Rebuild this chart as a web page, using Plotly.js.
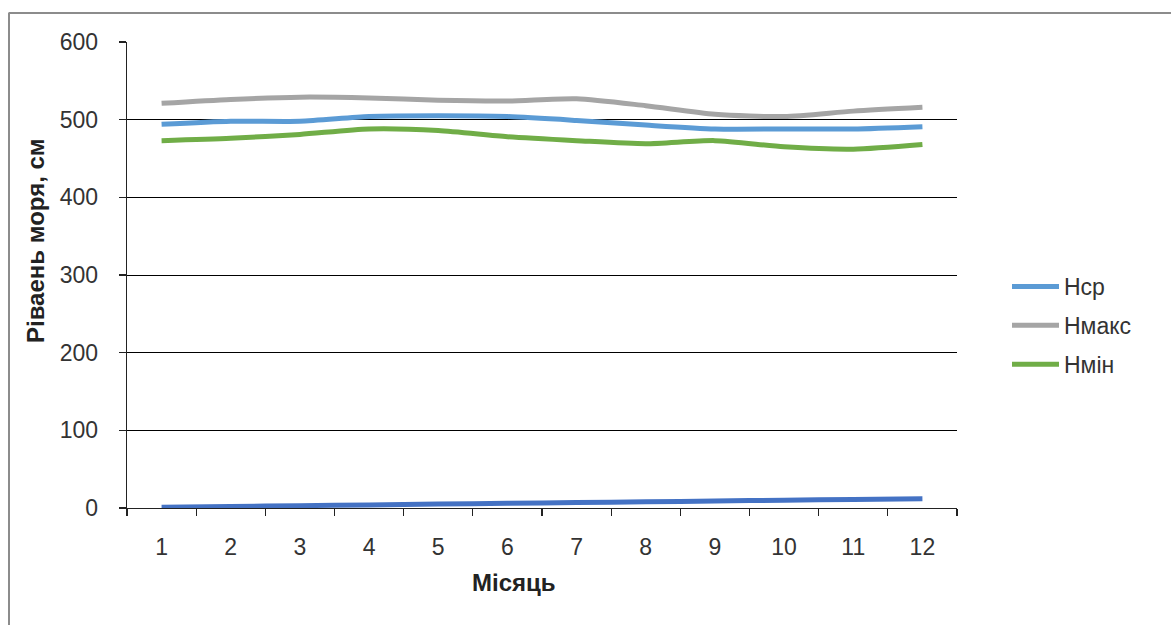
<!DOCTYPE html>
<html>
<head>
<meta charset="utf-8">
<script src="https://cdn.plot.ly/plotly-3.0.1.min.js"></script>
<style>html,body{margin:0;padding:0;background:#fff;}#chart{width:1174px;height:625px;}</style>
</head>
<body>
<div id="chart"></div>
<script>
const months = ['1','2','3','4','5','6','7','8','9','10','11','12'];
const monthValues = [1,2,3,4,5,6,7,8,9,10,11,12];
const hAvg = [494, 498, 498, 504, 505, 504, 499, 493, 488, 488, 488, 491];
const hMax = [521, 526, 529, 528, 525, 524, 527, 518, 507, 504, 511, 516];
const hMin = [473, 476, 481, 488, 486, 478, 473, 469, 473, 465, 462, 468];
const seriesNames = ['Нср', 'Нмакс', 'Нмін'];
const xTitle = 'Місяць';
const yTitle = 'Ріваень моря, см';

const L = 127, R = 957, T = 42, B = 508, W = 1174, H = 625;
const px = v => (v - L) / (R - L);
const py = v => (B - v) / (B - T);

function line(name, y, color, group, show) {
  return {x: months, y: y, name: name, type: 'scatter', mode: 'lines',
    line: {color: color, width: 5, shape: 'spline', smoothing: 0.7},
    legendgroup: group, showlegend: show, hoverinfo: 'skip'};
}
const data = [
  line(seriesNames[0], hAvg, '#5B9BD5', 'a', true),
  line(seriesNames[1], hMax, '#A5A5A5', 'b', true),
  line(seriesNames[2], hMin, '#70AD47', 'c', true),
  line('Місяць', monthValues, '#4472C4', 'd', false)
];
const fam = 'Liberation Sans, Arial, sans-serif';
const layout = {
  width: W, height: H,
  margin: {l: L, r: W - R, t: T, b: H - B, pad: 0},
  paper_bgcolor: '#fff', plot_bgcolor: '#fff',
  font: {family: fam, color: '#333', size: 23},
  showlegend: true,
  legend: {x: px(1007), y: py(265), xanchor: 'left', yanchor: 'top',
    font: {family: fam, size: 23, color: '#333'}, itemwidth: 47,
    tracegroupgap: 6, bgcolor: 'rgba(0,0,0,0)'},
  xaxis: {type: 'category', range: [-0.5, 11.5], showgrid: false, zeroline: false,
    showline: true, linecolor: '#222', linewidth: 1.3, ticks: 'outside', tickson: 'boundaries',
    ticklen: 7, tickcolor: '#222', tickwidth: 1.3, ticklabelstandoff: 18,
    tickfont: {family: 'Liberation Sans Narrow, Liberation Sans, Arial, sans-serif', size: 23, color: '#333'}, fixedrange: true},
  yaxis: {range: [0, 600], dtick: 100, tick0: 0, showgrid: true, gridcolor: '#000', gridwidth: 1,
    zeroline: false, showline: true, linecolor: '#222', linewidth: 1.3, ticks: 'outside',
    ticklen: 7, tickcolor: '#222', tickwidth: 1.3, ticklabelstandoff: 16,
    tickfont: {family: fam, size: 23, color: '#333'}, fixedrange: true},
  annotations: [
    {text: '<b>' + xTitle + '</b>', xref: 'paper', yref: 'paper', x: px(514), y: py(582),
      xanchor: 'center', yanchor: 'middle', showarrow: false,
      font: {family: 'Liberation Sans Narrow, Liberation Sans, Arial, sans-serif', size: 24, color: '#222'}},
    {text: '<b>' + yTitle + '</b>', xref: 'paper', yref: 'paper', x: px(36), y: py(241),
      xanchor: 'center', yanchor: 'middle', showarrow: false, textangle: -90,
      font: {family: fam, size: 24, color: '#222'}}
  ],
  shapes: [
    {type: 'line', xref: 'paper', yref: 'paper', x0: px(8.5), x1: px(1171), y0: py(13), y1: py(13),
      line: {color: '#8c8c8c', width: 2}},
    {type: 'line', xref: 'paper', yref: 'paper', x0: px(9), x1: px(9), y0: py(13), y1: py(626),
      line: {color: '#8c8c8c', width: 2}}
  ]
};
Plotly.newPlot('chart', data, layout, {staticPlot: true, displayModeBar: false});
</script>
</body>
</html>
